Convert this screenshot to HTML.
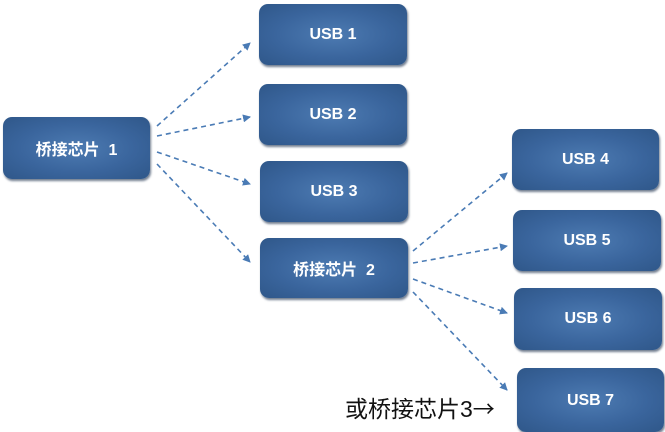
<!DOCTYPE html>
<html><head><meta charset="utf-8"><style>
body{margin:0;width:665px;height:422px;background:#fff;position:relative;overflow:hidden;font-family:"Liberation Sans","Noto Sans CJK SC",sans-serif}
.b{position:absolute;border-radius:9px;background:radial-gradient(ellipse at 50% 50%,#4d7bb2 0%,#3a659d 55%,#2f5789 100%);box-shadow:1px 2px 2px rgba(20,40,70,.6);color:#fff;font-weight:bold;font-size:16px;display:flex;align-items:center;justify-content:center}
svg{position:absolute;left:0;top:0}
.t{position:absolute;left:345px;top:390px;font-size:23px;color:#111;font-family:"Liberation Sans","Noto Sans CJK SC",sans-serif;white-space:nowrap}
</style></head><body>
<svg width="665" height="422"><defs><marker id="a" markerWidth="8" markerHeight="8" refX="7" refY="4" orient="auto" markerUnits="userSpaceOnUse"><path d="M0,0L8,4L0,8z" fill="#4a7bb5"/></marker></defs>
<g stroke="#4a7bb5" stroke-width="1.6" stroke-dasharray="5,4" fill="none" marker-end="url(#a)">
<line x1="157" y1="126" x2="250" y2="43"/>
<line x1="157" y1="136" x2="250" y2="117"/>
<line x1="157" y1="152" x2="250" y2="184"/>
<line x1="157" y1="164" x2="250" y2="262"/>
<line x1="413" y1="251" x2="507" y2="173"/>
<line x1="413" y1="263" x2="507" y2="246"/>
<line x1="413" y1="279" x2="507" y2="313"/>
<line x1="413" y1="292" x2="507" y2="390"/>
</g></svg>
<div class="b" style="left:3px;top:117px;width:147px;height:62px">桥接芯片&nbsp; 1</div>
<div class="b" style="left:259px;top:4px;width:148px;height:61px">USB 1</div>
<div class="b" style="left:259px;top:84px;width:148px;height:61px">USB 2</div>
<div class="b" style="left:260px;top:161px;width:148px;height:61px">USB 3</div>
<div class="b" style="left:260px;top:238px;width:148px;height:60px">桥接芯片&nbsp; 2</div>
<div class="b" style="left:512px;top:129px;width:147px;height:61px">USB 4</div>
<div class="b" style="left:513px;top:210px;width:148px;height:61px">USB 5</div>
<div class="b" style="left:514px;top:288px;width:148px;height:62px">USB 6</div>
<div class="b" style="left:517px;top:368px;width:147px;height:64px;align-items:flex-start"><span style="margin-top:24px">USB 7</span></div>
<div class="t">或桥接芯片3<span style="font-family:'Noto Sans CJK SC',sans-serif;font-size:22px">→</span></div>
</body></html>
